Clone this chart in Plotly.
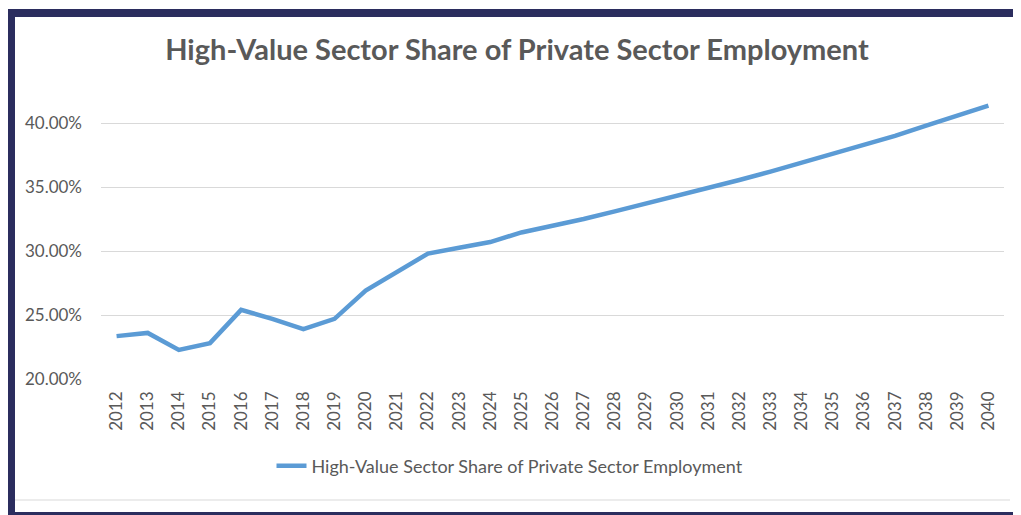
import plotly.graph_objects as go

years = [str(y) for y in range(2012, 2041)]
share = [23.35, 23.6, 22.27, 22.8, 25.4, 24.7, 23.9, 24.7, 26.9, 28.35,
         29.8, 30.25, 30.7, 31.45, 31.95, 32.5, 33.1, 33.7, 34.3, 34.9,
         35.55, 36.2, 36.9, 37.6, 38.3, 39.0, 39.8, 40.6, 41.35]
y_ticks = [20, 25, 30, 35, 40]
y_labels = ["20.00%", "25.00%", "30.00%", "35.00%", "40.00%"]
series_name = "High-Value Sector Share of Private Sector Employment"

# page body adds an 8px margin, so the figure is sized to the window minus that
W, H = 1013, 507
L, R, T, B = 93, 17, 83, 136
PW, PH = W - L - R, H - T - B


def px(x):
    return (x - L) / PW


def py(y):
    return (H - B - y) / PH


NAVY = "#2b2d5e"
GREY = "#595959"

fig = go.Figure()
fig.add_trace(go.Scatter(
    x=years, y=share, mode="lines", name=series_name,
    line=dict(color="#5b9bd5", width=4.5),
))

shapes = [
    # navy frame, top / left / bottom
    dict(type="rect", xref="paper", yref="paper", x0=px(0), x1=px(W + 5),
         y0=py(9), y1=py(1), fillcolor=NAVY, line_width=0, layer="above"),
    dict(type="rect", xref="paper", yref="paper", x0=px(0), x1=px(7),
         y0=py(H + 5), y1=py(1), fillcolor=NAVY, line_width=0, layer="above"),
    dict(type="rect", xref="paper", yref="paper", x0=px(0), x1=px(W + 5),
         y0=py(H + 5), y1=py(504), fillcolor=NAVY, line_width=0, layer="above"),
    # light chart-area edge
    dict(type="line", xref="paper", yref="paper", x0=px(7), x1=px(1002),
         y0=py(492), y1=py(492), line=dict(color="#d9d9d9", width=1)),
]

fig.update_layout(
    width=W, height=H,
    margin=dict(l=L, r=R, t=T, b=B),
    paper_bgcolor="white", plot_bgcolor="white",
    font=dict(family="Lato, Carlito, sans-serif", color=GREY, size=17),
    title=dict(text="<b>" + series_name + "</b>", x=509 / W, xref="container",
               xanchor="center", y=1 - 42 / H, yanchor="middle",
               font=dict(size=29, color=GREY)),
    showlegend=True,
    legend=dict(orientation="h", x=px(502), xanchor="center",
                y=py(458), yanchor="middle", font=dict(size=18, color=GREY),
                bgcolor="rgba(0,0,0,0)"),
    shapes=shapes,
)
fig.update_xaxes(
    type="category", range=[-0.5, len(years) - 0.5], tickangle=-90,
    showgrid=False, showline=False, ticks="", ticklabelstandoff=8,
    tickfont=dict(size=17, color=GREY),
)
fig.update_yaxes(
    range=[20, 42.5], tickvals=y_ticks, ticktext=y_labels,
    showgrid=True, gridcolor="#d9d9d9", gridwidth=1, zeroline=False,
    showline=False, ticks="", ticklabelstandoff=18,
    tickfont=dict(size=17, color=GREY),
)

fig.write_html("out.html")
